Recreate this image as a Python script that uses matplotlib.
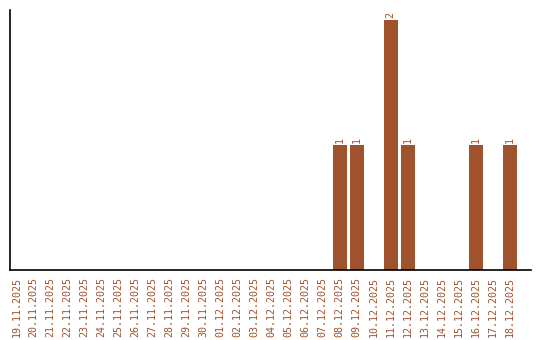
import matplotlib
matplotlib.use("Agg")
import matplotlib.pyplot as plt

dates = ["19.11.2025", "20.11.2025", "21.11.2025", "22.11.2025", "23.11.2025",
         "24.11.2025", "25.11.2025", "26.11.2025", "27.11.2025", "28.11.2025",
         "29.11.2025", "30.11.2025", "01.12.2025", "02.12.2025", "03.12.2025",
         "04.12.2025", "05.12.2025", "06.12.2025", "07.12.2025", "08.12.2025",
         "09.12.2025", "10.12.2025", "11.12.2025", "12.12.2025", "13.12.2025",
         "14.12.2025", "15.12.2025", "16.12.2025", "17.12.2025", "18.12.2025"]
counts = [0, 0, 0, 0, 0, 0, 0, 0, 0, 0,
          0, 0, 0, 0, 0, 0, 0, 0, 0, 1,
          1, 0, 2, 1, 0, 0, 0, 1, 0, 1]

color = "#A0522D"
fig = plt.figure(figsize=(5.4, 3.4), dpi=100)
ax = fig.add_axes([10 / 540, 70 / 340, 521 / 540, 260 / 340])

x = list(range(len(dates)))
ax.bar(x, counts, width=0.82, color=color)
for xi, c in zip(x, counts):
    if c > 0:
        ax.text(xi, c + 0.02, str(c), rotation=90, ha="center", va="bottom",
                color=color, family="DejaVu Sans Mono", fontsize=7.2)

ax.set_xlim(-0.394, 30.25)
ax.set_ylim(0, 2.08)
ax.set_xticks(x)
ax.set_xticklabels(dates, rotation=90, family="DejaVu Sans Mono", fontsize=7.2, color=color)
ax.tick_params(axis="x", length=0, pad=5)
ax.set_yticks([])
for s in ["top", "right"]:
    ax.spines[s].set_visible(False)
ax.spines["left"].set_linewidth(1.2)
ax.spines["bottom"].set_linewidth(1.2)

fig.savefig("out.png", dpi=100)
